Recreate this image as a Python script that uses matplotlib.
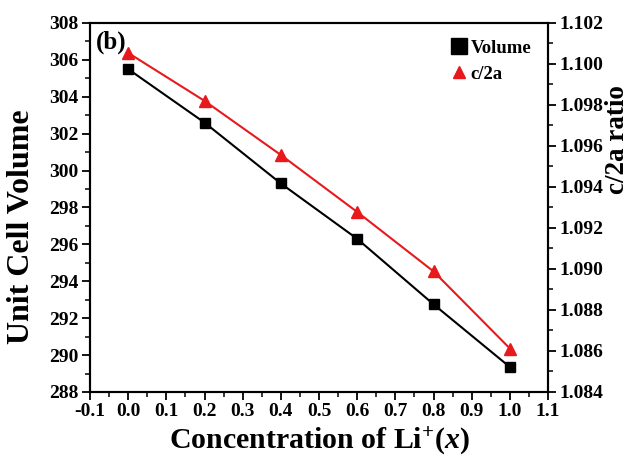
import matplotlib
matplotlib.use("Agg")
import matplotlib.pyplot as plt
from matplotlib.lines import Line2D
from matplotlib.ticker import MultipleLocator

plt.rcParams['font.family'] = ['Liberation Serif', 'DejaVu Serif']
plt.rcParams['font.weight'] = 'bold'
plt.rcParams['mathtext.fontset'] = 'custom'
plt.rcParams['mathtext.it'] = 'Liberation Serif:italic:bold'
plt.rcParams['mathtext.rm'] = 'Liberation Serif:bold'

x = [0.0, 0.2, 0.4, 0.6, 0.8, 1.0]
volume = [305.5, 302.6, 299.3, 296.3, 292.75, 289.35]
c2a = [1.10054, 1.09820, 1.09556, 1.09278, 1.08988, 1.08612]

fig = plt.figure(figsize=(6.31, 4.59), dpi=100)
ax = fig.add_axes([0.1426, 0.146, 0.726, 0.804])
ax2 = ax.twinx()

ax.plot(x, volume, color='black', lw=1.5, marker='s', ms=7, mfc='black', mec='black', zorder=3)
ax2.plot(x, c2a, color='#e8191c', lw=1.5, marker='^', ms=9, mfc='#e8191c', mec='#e8191c', zorder=3)

ax.set_xlim(-0.1, 1.1)
ax.set_ylim(288, 308)
ax2.set_ylim(1.084, 1.102)

ax.xaxis.set_minor_locator(MultipleLocator(0.05))
ax.yaxis.set_major_locator(MultipleLocator(2))
ax.yaxis.set_minor_locator(MultipleLocator(1))
ax2.yaxis.set_major_locator(MultipleLocator(0.002))
ax2.yaxis.set_minor_locator(MultipleLocator(0.001))

ax.set_xticks([round(-0.1 + 0.1 * i, 1) for i in range(13)])
ax.set_xticklabels([f"{-0.1 + 0.1 * i:.1f}" for i in range(13)])
ax2.yaxis.set_major_formatter(plt.FormatStrFormatter('%.3f'))

for a in (ax, ax2):
    for s in a.spines.values():
        s.set_linewidth(1.5)
    a.tick_params(which='major', direction='out', length=6, width=1.3, labelsize=14, pad=2)
    a.tick_params(which='minor', direction='out', length=3.5, width=1.1)

ax.set_xlabel(r'Concentration of Li$^{+}$($x$)', fontsize=21.5, fontweight='bold', labelpad=4)
ax.set_ylabel('Unit Cell Volume', fontsize=23, fontweight='bold')
ax.yaxis.set_label_coords(-0.117, 0.447)
ax2.set_ylabel('c/2a ratio', fontsize=19.5, fontweight='bold')
ax2.yaxis.set_label_coords(1.124, 0.683)

ax.text(0.013, 0.978, '(b)', transform=ax.transAxes, fontsize=18, fontweight='bold', va='top', ha='left')

handles = [
    Line2D([], [], ls='none', marker='s', ms=11, color='black'),
    Line2D([], [], ls='none', marker='^', ms=9, color='#e8191c'),
]
ax.legend(handles, ['Volume', 'c/2a'], loc='upper right', frameon=False,
          prop={'size': 13.5, 'weight': 'bold'}, handletextpad=0.0, borderaxespad=0.5,
          handlelength=1.2, labelspacing=0.45)

fig.savefig('out.png', dpi=100)
